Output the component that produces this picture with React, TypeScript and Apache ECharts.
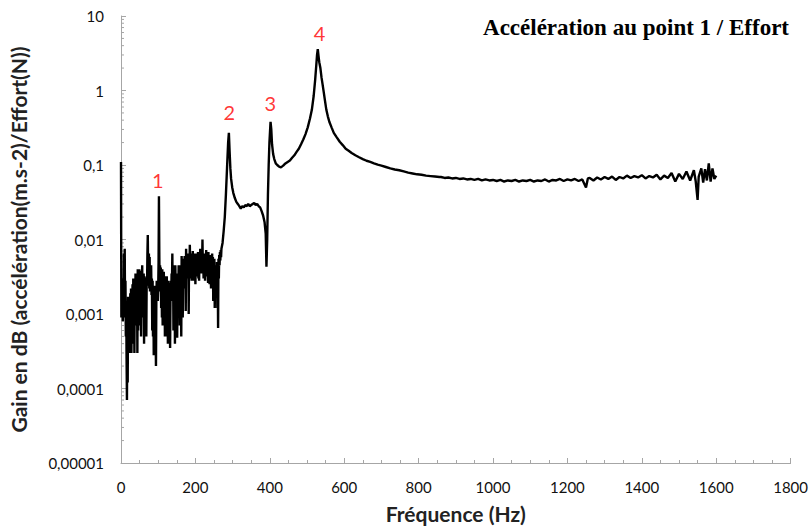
import React, { useEffect, useRef } from "react";
import * as echarts from "echarts";

// Low-frequency band, one reading per Hz starting at 0 Hz (gain)
const lowBandGain: number[] = [
  0.11, 0.0009, 0.003, 0.0011, 0.0028, 0.0008, 0.0025, 0.001, 0.0065, 0.0012,
  0.0075, 0.0009, 0.0028, 0.0005, 0.0015, 0.00025, 0.00007, 0.0009, 0.00012, 0.0017,
  0.0004, 0.0015, 0.0003, 0.0016, 0.0008, 0.0019, 0.0005, 0.0022, 0.0003, 0.0018,
  0.0009, 0.0025, 0.0004, 0.003, 0.0012, 0.0022, 0.0003, 0.0028, 0.0009, 0.0035,
  0.0007, 0.0026, 0.0015, 0.0035, 0.0003, 0.004, 0.0006, 0.0033, 0.0018, 0.004,
  0.0007, 0.0032, 0.0022, 0.0038, 0.0005, 0.003, 0.0025, 0.0045, 0.0009, 0.0028,
  0.0022, 0.0035, 0.0004, 0.0032, 0.002, 0.0026, 0.0008, 0.0031, 0.0005, 0.0028,
  0.0024, 0.0065, 0.0115, 0.0035, 0.0025, 0.0065, 0.0022, 0.0058, 0.002, 0.004,
  0.0025, 0.0045, 0.0018, 0.003, 0.0006, 0.0028, 0.0005, 0.0022, 0.00028, 0.0018,
  0.0024, 0.0009, 0.0022, 0.0006, 0.0002, 0.0015, 0.0028, 0.0018, 0.0025, 0.0015,
  0.0022, 0.005, 0.038, 0.006, 0.002, 0.0045, 0.0025, 0.0042, 0.0012, 0.0035,
  0.0009, 0.004, 0.0007, 0.0032, 0.0013, 0.0037, 0.0022, 0.0032, 0.0005, 0.003,
  0.0015, 0.0028, 0.0005, 0.0032, 0.0018, 0.0025, 0.0004, 0.0028, 0.0006, 0.0026,
  0.0016, 0.0022, 0.00035, 0.0018, 0.0028, 0.0015, 0.0035, 0.0025, 0.0065, 0.0018,
  0.0045, 0.0006, 0.0038, 0.0022, 0.0035, 0.0004, 0.0045, 0.0025, 0.0035, 0.0005,
  0.0032, 0.00048, 0.0028, 0.0035, 0.0015, 0.0045, 0.0025, 0.0038, 0.0007, 0.0045,
  0.0022, 0.0042, 0.0005, 0.006, 0.0025, 0.005, 0.0009, 0.0055, 0.003, 0.0052,
  0.0022, 0.006, 0.0035, 0.0048, 0.0011, 0.0075, 0.004, 0.0065, 0.0035, 0.006,
  0.003, 0.0055, 0.001, 0.0065, 0.0038, 0.0085, 0.0045, 0.0065, 0.003, 0.0055,
  0.0028, 0.006, 0.0045, 0.007, 0.0035, 0.0055, 0.0028, 0.0065, 0.0035, 0.0055,
  0.0025, 0.006, 0.0035, 0.0065, 0.0032, 0.0058, 0.004, 0.0068, 0.003, 0.0055,
  0.0028, 0.0062, 0.0038, 0.0075, 0.0042, 0.0058, 0.0035, 0.0065, 0.0045, 0.01,
  0.0042, 0.0055, 0.003, 0.0065, 0.0035, 0.0058, 0.0028, 0.006, 0.0042, 0.0072,
  0.0038, 0.0062, 0.0032, 0.0055, 0.0026, 0.0068, 0.004, 0.006, 0.0025, 0.0058,
  0.0034, 0.0062, 0.0022, 0.0055, 0.0045, 0.0065, 0.0032, 0.0058, 0.0015, 0.0048,
  0.003, 0.0055, 0.0012, 0.0045, 0.0025, 0.0028, 0.0038, 0.0018, 0.005, 0.0012,
  0.0042, 0.00065, 0.0055, 0.003, 0.0062, 0.0045, 0.0068, 0.0052, 0.0072, 0.0058,
  0.0075,
];

// Resonance region: [frequency (Hz), gain]
const resonances: [number, number][] = [
  [273, 0.009], [276, 0.013], [279, 0.02], [282, 0.04], [285, 0.09], [288, 0.2], [290, 0.27],
  [292, 0.15], [294, 0.09], [296, 0.065], [299, 0.05], [302, 0.042], [306, 0.036], [310, 0.032],
  [314, 0.03], [318, 0.028], [322, 0.026], [326, 0.028], [330, 0.027], [334, 0.029], [338, 0.028],
  [342, 0.03], [346, 0.028], [350, 0.029], [354, 0.03], [358, 0.031], [362, 0.029], [366, 0.03],
  [370, 0.028], [374, 0.027], [378, 0.024], [382, 0.021], [386, 0.017], [389, 0.012],
  [391, 0.0043], [393, 0.01], [395, 0.04], [397, 0.1], [399, 0.2], [402, 0.38], [404, 0.3],
  [406, 0.19], [409, 0.14], [412, 0.12], [416, 0.105], [420, 0.1], [425, 0.095], [430, 0.093],
  [436, 0.098], [442, 0.105], [448, 0.11], [454, 0.115], [460, 0.125], [466, 0.135],
  [472, 0.15], [478, 0.165], [484, 0.19], [490, 0.22], [496, 0.26], [502, 0.32], [508, 0.42],
  [513, 0.55], [518, 0.85], [522, 1.4], [525, 2.2], [527, 3.0], [529, 3.6], [531, 2.9],
  [533, 2.4], [536, 2.0], [539, 1.5], [542, 1.2], [545, 0.95], [548, 0.75], [552, 0.55],
  [556, 0.45], [560, 0.38], [566, 0.32], [572, 0.27], [580, 0.235], [588, 0.205],
  [596, 0.185], [604, 0.165], [612, 0.155], [620, 0.145], [630, 0.135], [640, 0.127],
  [650, 0.12], [660, 0.114], [670, 0.11], [680, 0.105], [690, 0.101], [700, 0.098],
  [712, 0.094], [724, 0.09], [736, 0.087], [748, 0.085], [760, 0.082], [772, 0.079],
  [784, 0.077], [796, 0.075], [808, 0.074], [820, 0.072], [832, 0.071], [844, 0.07],
  [856, 0.069],
];

// High-frequency plateau: [frequency (Hz), gain]
const tail: [number, number][] = [
  [860, 0.069], [870, 0.067], [880, 0.068], [890, 0.066], [900, 0.067], [910, 0.065],
  [920, 0.066], [930, 0.064], [940, 0.065], [950, 0.063], [960, 0.065], [970, 0.062],
  [980, 0.064], [990, 0.062], [1000, 0.063], [1010, 0.061], [1020, 0.063], [1030, 0.06],
  [1040, 0.062], [1050, 0.061], [1060, 0.063], [1070, 0.06], [1080, 0.062], [1090, 0.061],
  [1100, 0.063], [1110, 0.06], [1120, 0.062], [1130, 0.061], [1140, 0.064], [1150, 0.06],
  [1160, 0.063], [1170, 0.062], [1180, 0.065], [1190, 0.061], [1200, 0.064], [1210, 0.062],
  [1220, 0.065], [1230, 0.061], [1240, 0.064], [1250, 0.05], [1255, 0.066], [1260, 0.067],
  [1270, 0.062], [1280, 0.068], [1290, 0.064], [1300, 0.069], [1310, 0.065], [1320, 0.07],
  [1330, 0.063], [1340, 0.069], [1350, 0.066], [1360, 0.072], [1370, 0.067], [1380, 0.071],
  [1390, 0.068], [1400, 0.073], [1410, 0.066], [1420, 0.071], [1430, 0.068], [1440, 0.074],
  [1450, 0.064], [1460, 0.072], [1470, 0.067], [1480, 0.078], [1490, 0.06], [1500, 0.076],
  [1510, 0.065], [1520, 0.082], [1530, 0.062], [1540, 0.085], [1545, 0.06], [1550, 0.034],
  [1553, 0.07], [1560, 0.09], [1565, 0.058], [1570, 0.088], [1575, 0.062], [1580, 0.105],
  [1585, 0.06], [1590, 0.09], [1595, 0.065], [1600, 0.072],
];

// Mode annotations: [frequency, gain position, label]
const modeLabels: [number, number, string][] = [
  [99, 0.062, "1"],
  [291, 0.51, "2"],
  [401, 0.69, "3"],
  [534, 6.0, "4"],
];

const yMinorTickValues: number[] = [];
for (let e = -5; e < 1; e++) {
  for (let m = 2; m <= 9; m++) yMinorTickValues.push(m * Math.pow(10, e));
}

const formatLog = (v: number) => {
  const e = Math.round(Math.log10(v));
  if (e >= 0) return String(Math.pow(10, e));
  return "0," + "0".repeat(-e - 1) + "1";
};

export default function App() {
  const ref = useRef<HTMLDivElement>(null);
  useEffect(() => {
    if (!ref.current) return;
    const chart = echarts.init(ref.current, undefined, { renderer: "svg" });
    const axisGray = "#a6a6a6";
    const spectrum: [number, number][] = [
      ...lowBandGain.map((g, i) => [i, g] as [number, number]),
      ...resonances,
      ...tail,
    ];
    chart.setOption({
      animation: false,
      backgroundColor: "#ffffff",
      title: {
        text: "Accélération au point 1 / Effort",
        right: 17,
        top: 11,
        textStyle: {
          fontFamily: "Liberation Serif",
          fontWeight: "bold",
          fontSize: 23,
          color: "#000",
        },
      },
      grid: { left: 118, right: 18, top: 16, bottom: 69 },
      xAxis: {
        type: "value",
        min: 0,
        max: 1800,
        interval: 200,
        name: "Fréquence (Hz)",
        nameLocation: "middle",
        nameGap: 40,
        nameTextStyle: { fontFamily: "Lato", fontWeight: "bold", fontSize: 21, color: "#222" },
        axisLine: { show: true, lineStyle: { color: axisGray, width: 1 } },
        axisTick: { show: true, inside: true, length: 5, lineStyle: { color: axisGray } },
        minorTick: { show: true, splitNumber: 4, length: 3, lineStyle: { color: axisGray } },
        splitLine: { show: false },
        axisLabel: {
          fontFamily: "Lato",
          fontSize: 15,
          color: "#111",
          margin: 16,
          formatter: (v: number) => String(v),
        },
      },
      yAxis: {
        type: "log",
        logBase: 10,
        min: 0.00001,
        max: 10,
        name: "Gain en dB (accélération(m.s-2)/Effort(N))",
        nameLocation: "middle",
        nameGap: 92,
        nameTextStyle: { fontFamily: "Lato", fontWeight: "bold", fontSize: 21, color: "#222" },
        axisLine: { show: true, lineStyle: { color: axisGray, width: 1 } },
        axisTick: { show: true, inside: true, length: 5, lineStyle: { color: axisGray } },
        splitLine: { show: false },
        axisLabel: {
          fontFamily: "Lato",
          fontSize: 15,
          color: "#111",
          margin: 17,
          formatter: (v: number) => formatLog(v),
        },
      },
      series: [
        {
          type: "custom",
          silent: true,
          clip: false,
          data: yMinorTickValues.map((v) => [0, v]),
          encode: { x: 0, y: 1 },
          renderItem: (_p: any, api: any) => {
            const pt = api.coord([0, api.value(1)]);
            return {
              type: "line",
              shape: { x1: pt[0], y1: pt[1], x2: pt[0] + 3, y2: pt[1] },
              style: { stroke: axisGray, lineWidth: 1 },
            };
          },
          z: 1,
        },
        {
          type: "line",
          data: spectrum,
          showSymbol: false,
          symbol: "none",
          lineStyle: { color: "#000", width: 2.4 },
          z: 3,
        },
        {
          type: "scatter",
          data: modeLabels.map((d) => [d[0], d[1], d[2]]),
          symbolSize: 1,
          itemStyle: { color: "rgba(0,0,0,0)" },
          label: {
            show: true,
            position: "inside",
            formatter: (p: any) => p.data[2],
            fontFamily: "Lato",
            fontSize: 20,
            color: "#ff0000",
          },
          silent: true,
          z: 4,
        },
      ],
    });
    return () => chart.dispose();
  }, []);
  return (
    <div
      ref={ref}
      style={{ position: "absolute", left: 0, top: 0, width: 811, height: 532 }}
    />
  );
}
